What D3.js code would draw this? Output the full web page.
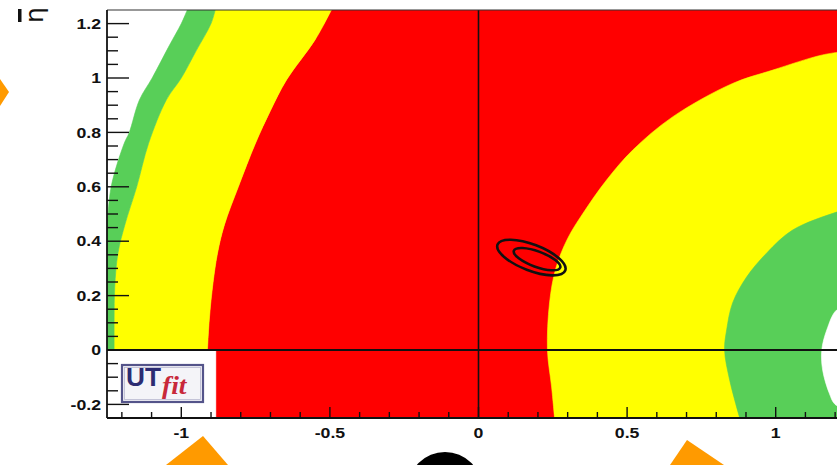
<!DOCTYPE html>
<html>
<head>
<meta charset="utf-8">
<script src="https://cdn.jsdelivr.net/npm/d3@7"></script>
<style>
  body { margin: 0; background: #fff; }
  svg { display: block; overflow: hidden; }
</style>
</head>
<body>
<div id="chart"></div>
<script>
// Tick labels
const rhoLabels = [-1, -0.5, 0, 0.5, 1];
const etaLabels = [-0.2, 0, 0.2, 0.4, 0.6, 0.8, 1, 1.2];

// Region boundaries, [rho, eta] (eta ascending)
const leftWhiteGreen = [
  [-1.25, 0.44], [-1.236, 0.6], [-1.192, 0.76], [-1.175, 0.8], [-1.141, 0.919],
  [-1.098, 1.0], [-1.04, 1.12], [-1.0, 1.2], [-0.98, 1.25]
];
const leftGreenYellow = [
  [-1.226, 0], [-1.226, 0.11], [-1.224, 0.232], [-1.213, 0.357], [-1.19, 0.46],
  [-1.15, 0.6], [-1.11, 0.76], [-1.05, 0.92], [-1.0, 1.0], [-0.95, 1.1],
  [-0.9, 1.2], [-0.886, 1.25]
];
const leftYellowRed = [
  [-0.912, 0], [-0.906, 0.11], [-0.895, 0.232], [-0.878, 0.357], [-0.855, 0.46],
  [-0.808, 0.6], [-0.75, 0.761], [-0.7, 0.88], [-0.646, 0.993], [-0.55, 1.14],
  [-0.495, 1.25]
];
const leftRedBelowAxis = -0.882;

const rightRedYellow = [
  [0.256, -0.25], [0.246, -0.136], [0.232, 0], [0.239, 0.173], [0.26, 0.3],
  [0.3, 0.41], [0.35, 0.5], [0.431, 0.625], [0.519, 0.735], [0.653, 0.857],
  [0.855, 0.98], [0.99, 1.029], [1.158, 1.085], [1.25, 1.1]
];
const rightYellowGreen = [
  [0.879, -0.25], [0.845, -0.11], [0.828, 0], [0.835, 0.074], [0.855, 0.173],
  [0.902, 0.268], [0.97, 0.357], [1.057, 0.441], [1.205, 0.507], [1.25, 0.52]
];
const rightGreenWhite = [
  [1.25, -0.22], [1.2, -0.2], [1.18, -0.158], [1.158, -0.074], [1.155, 0],
  [1.172, 0.074], [1.205, 0.147], [1.25, 0.16]
];

// Fit contours: centre, semi-axes (rho units), tilt in degrees
const contours = [
  { rho: 0.178, eta: 0.340, a: 0.122, b: 0.044, tilt: 21 },
  { rho: 0.197, eta: 0.334, a: 0.083, b: 0.026, tilt: 20 }
];

const colors = { red: "#ff0000", yellow: "#ffff00", green: "#58cf58" };

const W = 837, H = 465;
const svg = d3.select("#chart").append("svg")
  .attr("width", W).attr("height", H);

// plot frame: left 107 .. off-screen right, top 10 .. bottom 418
const x = d3.scaleLinear().domain([-1.25, 1.25]).range([107, 850]);
const y = d3.scaleLinear().domain([-0.25, 1.25]).range([418, 10]);

svg.append("clipPath").attr("id", "plot")
  .append("rect")
  .attr("x", x(-1.25)).attr("y", y(1.25))
  .attr("width", x(1.25) - x(-1.25)).attr("height", y(-0.25) - y(1.25));

const g = svg.append("g").attr("clip-path", "url(#plot)");
const smooth = d3.line().x(d => x(d[0])).y(d => y(d[1])).curve(d3.curveCatmullRom.alpha(0.5));
const straight = d3.line().x(d => x(d[0])).y(d => y(d[1]));

// glue boundary pieces into one closed outline
function outline(pieces) {
  return pieces.map((p, i) => {
    const s = (p.smooth ? smooth : straight)(p.pts);
    return i ? "L" + s.slice(1) : s;
  }).join("") + "Z";
}
const rev = a => a.slice().reverse();

const regions = [
  { fill: colors.red, d: outline([
      { pts: [[leftRedBelowAxis, -0.3], [leftRedBelowAxis, 0]] },
      { pts: leftYellowRed, smooth: true },
      { pts: [[-0.495, 1.3], [1.3, 1.3], [1.3, -0.3]] }]) },
  { fill: colors.yellow, d: outline([
      { pts: leftGreenYellow, smooth: true },
      { pts: rev(leftYellowRed), smooth: true }]) },
  { fill: colors.green, d: outline([
      { pts: [[-1.3, 0], [-1.3, 0.44]] },
      { pts: leftWhiteGreen, smooth: true },
      { pts: rev(leftGreenYellow), smooth: true }]) },
  { fill: colors.yellow, d: outline([
      { pts: rightRedYellow, smooth: true },
      { pts: [[1.3, 1.1], [1.3, -0.3], [0.256, -0.3]] }]) },
  { fill: colors.green, d: outline([
      { pts: rightYellowGreen, smooth: true },
      { pts: [[1.3, 0.52], [1.3, -0.3], [0.879, -0.3]] }]) },
  { fill: "#ffffff", d: outline([
      { pts: rightGreenWhite, smooth: true },
      { pts: [[1.3, 0.16], [1.3, -0.22]] }]) }
];

g.selectAll("path.region")
  .data(regions)
  .enter().append("path")
  .attr("class", "region")
  .attr("d", d => d.d)
  .attr("fill", d => d.fill)
  .attr("stroke", d => d.fill)
  .attr("stroke-width", 0.6);

// axes through the origin
g.append("line")
  .attr("x1", x(-1.25)).attr("x2", x(1.25))
  .attr("y1", y(0)).attr("y2", y(0))
  .attr("stroke", "#111").attr("stroke-width", 1.8);
g.append("line")
  .attr("x1", x(0)).attr("x2", x(0))
  .attr("y1", y(1.25)).attr("y2", y(-0.25))
  .attr("stroke", "#111").attr("stroke-width", 1.6);

// contours
g.selectAll("ellipse.contour")
  .data(contours)
  .enter().append("ellipse")
  .attr("class", "contour")
  .attr("cx", 0).attr("cy", 0)
  .attr("rx", d => x(d.a) - x(0))
  .attr("ry", d => x(d.b) - x(0))
  .attr("transform", d => `translate(${x(d.rho)},${y(d.eta)}) rotate(${d.tilt})`)
  .attr("fill", "none")
  .attr("stroke", "#111")
  .attr("stroke-width", 2.6);

// frame
svg.append("line").attr("x1", x(-1.25)).attr("x2", W).attr("y1", y(1.25)).attr("y2", y(1.25))
  .attr("stroke", "#333").attr("stroke-width", 1.2);
svg.append("line").attr("x1", x(-1.25)).attr("x2", x(-1.25)).attr("y1", y(1.25)).attr("y2", y(-0.25))
  .attr("stroke", "#111").attr("stroke-width", 1.8);
svg.append("line").attr("x1", x(-1.25)).attr("x2", W).attr("y1", y(-0.25)).attr("y2", y(-0.25))
  .attr("stroke", "#111").attr("stroke-width", 1.8);

// ticks
const isMajor = (v, step) => Math.abs(v / step - Math.round(v / step)) < 1e-6;
svg.selectAll("line.xt")
  .data(x.ticks(25).filter(v => v > -1.25 && v < 1.25))
  .enter().append("line")
  .attr("x1", d => x(d)).attr("x2", d => x(d))
  .attr("y1", y(-0.25))
  .attr("y2", d => y(-0.25) - (isMajor(d, 0.5) ? 11 : 6))
  .attr("stroke", "#111").attr("stroke-width", 1.4);

svg.selectAll("line.yt")
  .data(y.ticks(30).filter(v => v > -0.25 && v < 1.25))
  .enter().append("line")
  .attr("y1", d => y(d)).attr("y2", d => y(d))
  .attr("x1", x(-1.25))
  .attr("x2", d => x(-1.25) + (isMajor(d, 0.2) ? 22 : 11))
  .attr("stroke", "#111").attr("stroke-width", 1.4);

// tick labels (ROOT's Helvetica comes out a bit wide in this picture)
const labelFont = "bold 14.5px 'Liberation Sans', Arial, sans-serif";
svg.selectAll("text.xl")
  .data(rhoLabels)
  .enter().append("text")
  .attr("transform", d => `translate(${x(d)},438) scale(1.22,1)`)
  .attr("text-anchor", "middle")
  .style("font", labelFont)
  .attr("fill", "#111")
  .text(d => String(d));

svg.selectAll("text.yl")
  .data(etaLabels)
  .enter().append("text")
  .attr("transform", d => `translate(101,${y(d)}) scale(1.22,1)`)
  .attr("dy", "0.36em")
  .attr("text-anchor", "end")
  .style("font", labelFont)
  .attr("fill", "#111")
  .text(d => String(d));

// y-axis title, rotated as in ROOT
const yt = svg.append("g").attr("transform", "translate(43,23) rotate(-90)");
yt.append("text")
  .attr("x", 0).attr("y", 0)
  .style("font", "25px 'DejaVu Sans', sans-serif")
  .attr("fill", "#111")
  .text("η");
yt.append("rect")
  .attr("x", 1).attr("y", -25).attr("width", 13).attr("height", 3.5)
  .attr("fill", "#111");

// UTfit logo
const logo = svg.append("g");
logo.append("rect")
  .attr("x", 122).attr("y", 365).attr("width", 81).attr("height", 37)
  .attr("fill", "#f4f4f8").attr("stroke", "#54548a").attr("stroke-width", 2.2);
logo.append("rect")
  .attr("x", 124.5).attr("y", 367.5).attr("width", 76).attr("height", 32)
  .attr("fill", "none").attr("stroke", "#b8b8d0").attr("stroke-width", 0.8);
logo.append("text")
  .attr("transform", "translate(126,386) scale(1.05,1)")
  .style("font", "bold 25px 'Liberation Sans', Arial, sans-serif")
  .attr("fill", "#2c2c72")
  .text("UT");
logo.append("text")
  .attr("transform", "translate(162,394) scale(1.1,1)")
  .style("font", "italic bold 25px 'Liberation Serif', serif")
  .attr("fill", "#c8283a")
  .text("fit");

// slide decorations
const deco = svg.append("g");
deco.append("path").attr("d", "M0,79 L9,92 L0,106 Z").attr("fill", "#ff9a00");
deco.append("path").attr("d", "M203,436 L228,465 L166,465 Z").attr("fill", "#ff9a00");
deco.append("path").attr("d", "M687,440 L724,465 L670,465 Z").attr("fill", "#ff9a00");
deco.append("circle").attr("cx", 445).attr("cy", 489).attr("r", 37).attr("fill", "#000");
</script>
</body>
</html>
